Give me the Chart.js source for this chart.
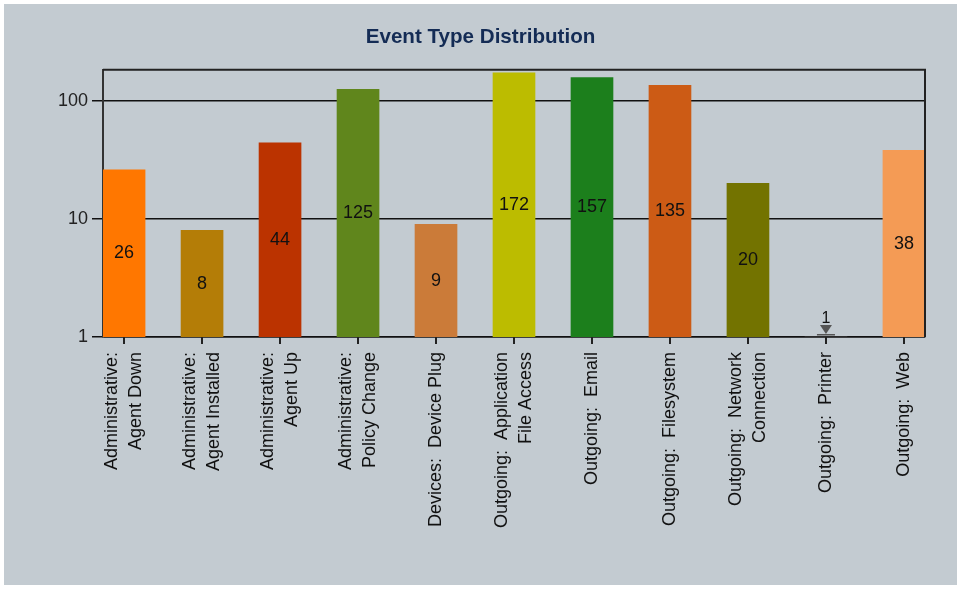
<!DOCTYPE html>
<html>
<head>
<meta charset="utf-8">
<script src="https://cdn.jsdelivr.net/npm/chart.js@4/dist/chart.umd.min.js"></script>
<style>
  html, body { margin: 0; padding: 0; background: #ffffff; }
  #wrap { position: absolute; left: 4px; top: 4px; width: 953px; height: 581px; background: #c3cbd1; }
</style>
</head>
<body>
<div id="wrap"><canvas id="chart" width="953" height="581"></canvas></div>
<script>
// datos del gráfico
const categorias = [
  ['Administrative:', 'Agent Down'],
  ['Administrative:', 'Agent Installed'],
  ['Administrative:', 'Agent Up'],
  ['Administrative:', 'Policy Change'],
  'Devices:  Device Plug',
  ['Outgoing:  Application', 'File Access'],
  'Outgoing:  Email',
  'Outgoing:  Filesystem',
  ['Outgoing:  Network', 'Connection'],
  'Outgoing:  Printer',
  'Outgoing:  Web'
];
const valores = [26, 8, 44, 125, 9, 172, 157, 135, 20, 1, 38];
const colores = ['#ff7700', '#b47d07', '#bb3300', '#60861c', '#cb7b39', '#bcbc00',
                 '#1c7f1c', '#cc5b15', '#737300', '#777777', '#f49b55'];
const ticksY = [1, 10, 100];

const FONT = "'Liberation Sans', Arial, sans-serif";
const LINEA_X = 18 * 1.33;

// centrar las etiquetas de dos líneas sobre su marca
const centrarPlugin = {
  id: 'centrar',
  beforeDraw(chart) {
    const sx = chart.scales.x;
    const items = sx.getLabelItems(chart.chartArea);
    items.forEach(it => {
      if (Array.isArray(it.label) && it.label.length > 1) {
        it.options.translation[0] -= (it.label.length - 1) * LINEA_X / 2;
      }
    });
  }
};

// etiquetas de valor dentro de las barras
const etiquetasPlugin = {
  id: 'etiquetas',
  afterDatasetsDraw(chart) {
    const ctx = chart.ctx;
    const meta = chart.getDatasetMeta(0);
    ctx.save();
    ctx.fillStyle = '#111';
    ctx.textAlign = 'center';
    ctx.textBaseline = 'middle';
    meta.data.forEach((el, i) => {
      const h = el.base - el.y;
      if (h > 20) {
        ctx.font = `18px ${FONT}`;
        ctx.fillText(String(valores[i]), el.x, (el.y + el.base) / 2);
      } else {
        // marcador para barras sin altura
        ctx.fillStyle = '#555';
        ctx.beginPath();
        ctx.moveTo(el.x - 6, el.base - 12);
        ctx.lineTo(el.x + 6, el.base - 12);
        ctx.lineTo(el.x, el.base - 3);
        ctx.closePath();
        ctx.fill();
        ctx.fillRect(el.x - 9, el.base - 3, 18, 1.5);
        ctx.fillStyle = '#111';
        ctx.font = `16px ${FONT}`;
        ctx.fillText(String(valores[i]), el.x, el.base - 18);
      }
    });
    ctx.restore();
  }
};

// borde superior/derecho del área y marcas del eje x
const bordePlugin = {
  id: 'borde',
  afterDraw(chart) {
    const { ctx, chartArea: a } = chart;
    const sx = chart.scales.x;
    ctx.save();
    ctx.strokeStyle = '#222';
    ctx.lineWidth = 2;
    ctx.beginPath();
    ctx.moveTo(a.left, a.top);
    ctx.lineTo(a.right, a.top);
    ctx.lineTo(a.right, a.bottom);
    ctx.stroke();
    ctx.fillStyle = '#222';
    sx.ticks.forEach(t => {
      const px = Math.round(sx.getPixelForValue(t.value));
      ctx.fillRect(px - 1, a.bottom, 2, 7);
    });
    ctx.restore();
  }
};

new Chart(document.getElementById('chart'), {
  type: 'bar',
  data: {
    datasets: [{
      data: valores.map((v, i) => ({ x: i, y: v })),
      backgroundColor: colores,
      borderWidth: 0,
      barThickness: 42
    }]
  },
  options: {
    responsive: false,
    animation: false,
    layout: { padding: 0 },
    plugins: {
      legend: { display: false },
      tooltip: { enabled: false },
      title: {
        display: true,
        text: 'Event Type Distribution',
        color: '#142c55',
        font: { family: FONT, size: 20.6, weight: 'bold' },
        padding: { top: 21, bottom: 20 }
      }
    },
    scales: {
      x: {
        type: 'linear',
        min: -0.27,
        max: 10.27,
        offset: false,
        afterBuildTicks: (s) => { s.ticks = categorias.map((_, i) => ({ value: i })); },
        afterFit: (s) => { s.height = 248; },
        grid: { offset: false, drawOnChartArea: false, tickLength: 7, color: '#111', lineWidth: 1.5 },
        border: { display: true, color: '#111', width: 1.5 },
        ticks: {
          autoSkip: false,
          maxRotation: 90,
          minRotation: 90,
          padding: 8,
          color: '#111',
          font: { family: FONT, size: 18, lineHeight: 1.33 },
          callback: (v) => categorias[v]
        }
      },
      y: {
        type: 'logarithmic',
        min: 1,
        max: 183,
        afterBuildTicks: (s) => { s.ticks = ticksY.map(v => ({ value: v })); },
        afterFit: (s) => { s.width = 99; },
        grid: { color: '#111', lineWidth: 1.5, tickLength: 11 },
        border: { display: true, color: '#333', width: 2 },
        ticks: {
          padding: 4,
          color: '#222',
          font: { family: FONT, size: 18 },
          callback: (v) => String(v)
        }
      },
      // eje vacío para dejar el margen derecho
      margen: {
        type: 'linear',
        position: 'right',
        afterFit: (s) => { s.width = 32; },
        grid: { display: false, drawTicks: false },
        border: { display: false },
        ticks: { display: false }
      }
    }
  },
  plugins: [centrarPlugin, etiquetasPlugin, bordePlugin]
});
</script>
</body>
</html>
